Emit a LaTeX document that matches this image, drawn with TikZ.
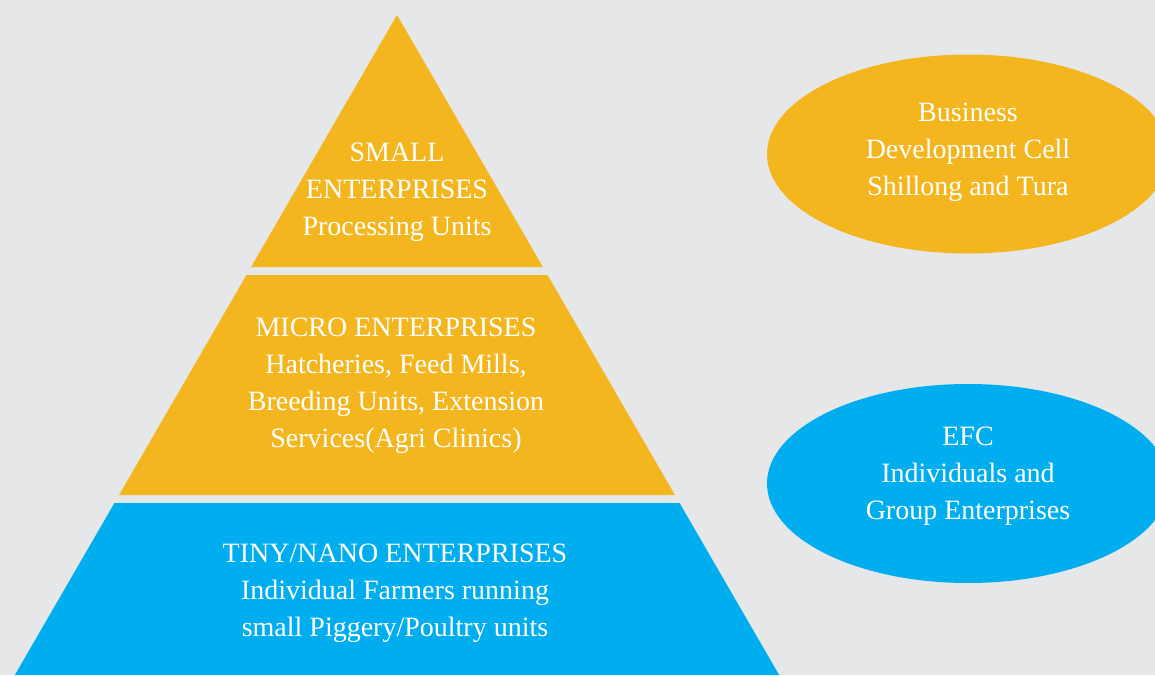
\documentclass[tikz,border=0pt]{standalone}
\usepackage{fontspec}
\setmainfont{Liberation Serif}
\usepackage{tikz}
\usetikzlibrary{shapes.geometric}
\definecolor{pageback}{HTML}{E6E7E8}
\definecolor{pyryellow}{HTML}{F4B61E}
\definecolor{pyrblue}{HTML}{00AEEF}

\begin{document}
\begin{tikzpicture}[x=0.5pt,y=-0.5pt,
            level/.style={fill=#1,draw=none},
            tag/.style={text=white,align=center,inner sep=0pt,font=\fontsize{14}{18.5}\selectfont},
            cell/.style={ellipse,fill=#1,draw=none,minimum width=201pt,minimum height=99.5pt,inner sep=0pt}
            ]
            \def\X{397}   % apex x
            \def\Y{15}    % apex y
            \def\s{0.579} % half width per unit of height

            \fill[pageback] (0,0) rectangle (1155,675);
            \useasboundingbox (0,0) rectangle (1155,675);

            % pyramid levels: top, bottom, colour
            \foreach \a/\b/\c in {15/267/pyryellow,275/495/pyryellow,503/675/pyrblue} {
                \fill[level=\c] ({\X-\s*(\a-\Y)},\a) -- ({\X+\s*(\a-\Y)},\a)
                    -- ({\X+\s*(\b-\Y)},\b) -- ({\X-\s*(\b-\Y)},\b) -- cycle;
            }
            \node[tag] (small) at (397,192.5) {SMALL\\ENTERPRISES\\Processing Units};
            \node[tag] (micro) at (396,386) {MICRO ENTERPRISES\\Hatcheries, Feed Mills,\\Breeding Units, Extension\\Services(Agri Clinics)};
            \node[tag] (tiny) at (395,593.5) {TINY/NANO ENTERPRISES\\Individual Farmers running\\small Piggery/Poultry units};

            \node[cell=pyryellow] (bdc) at (968,154) {};
            \node[cell=pyrblue] (efc) at (968,483.5) {};
            \node[tag] (bdctext) at (968,152) {Business\\Development Cell\\Shillong and Tura};
            \node[tag] (efctext) at (968,476) {EFC\\Individuals and\\Group Enterprises};
        \end{tikzpicture}
\end{document}
